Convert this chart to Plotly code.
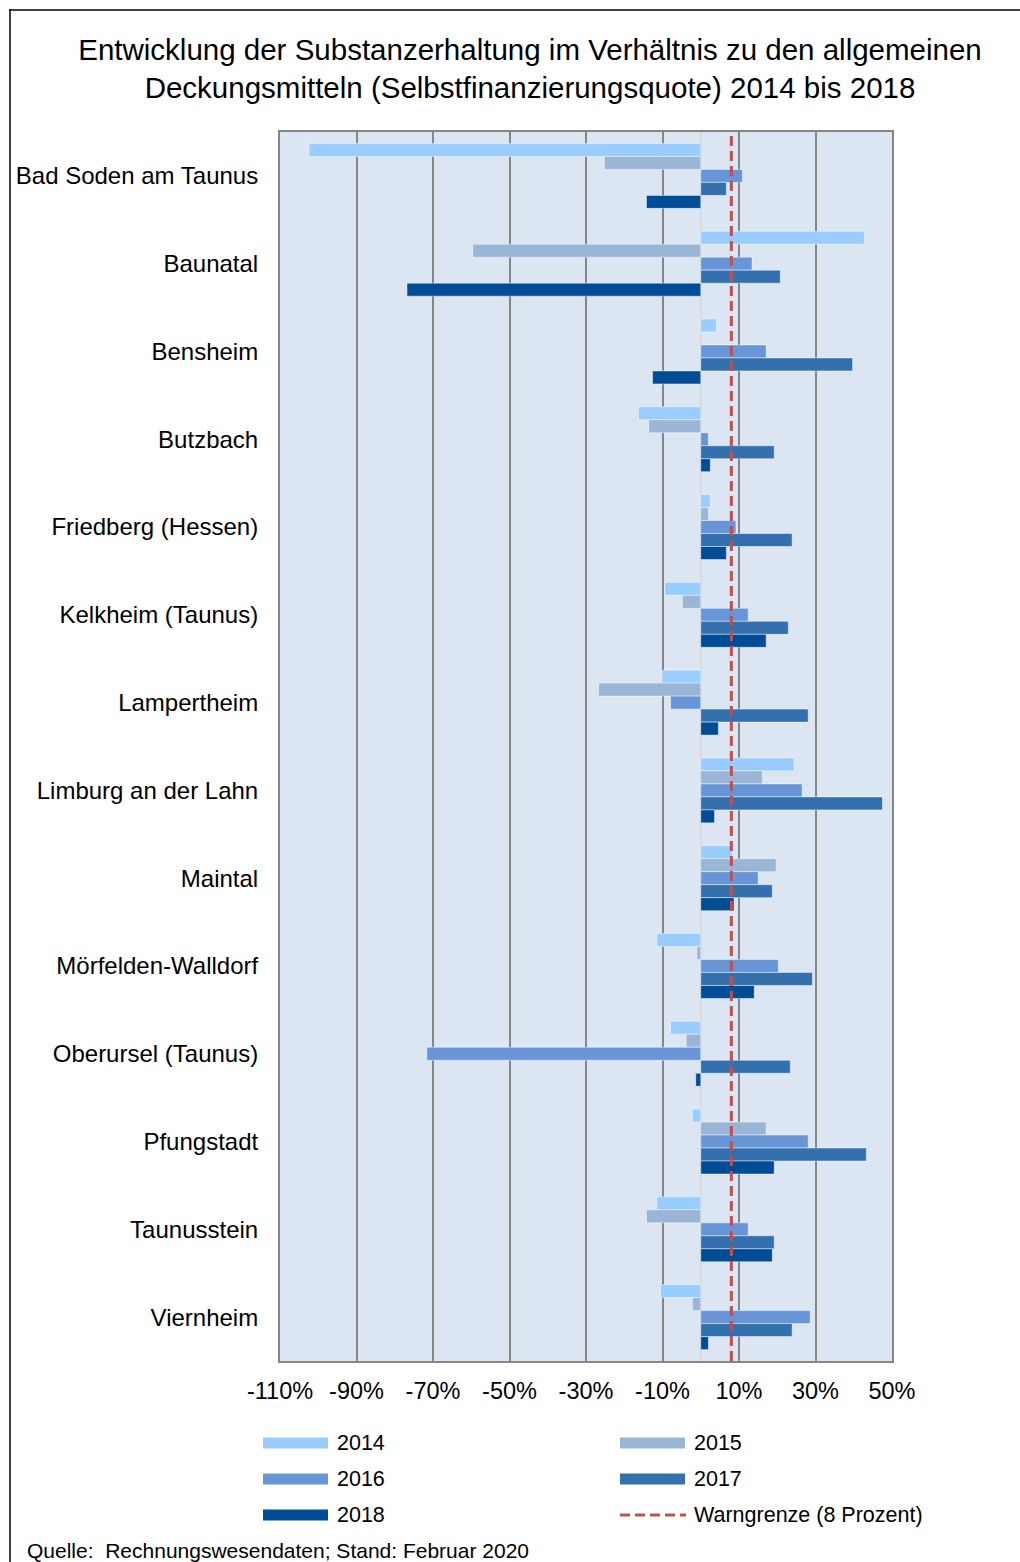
import plotly.graph_objects as go

# ---------------- data ----------------
cities = [
    "Bad Soden am Taunus", "Baunatal", "Bensheim", "Butzbach", "Friedberg (Hessen)",
    "Kelkheim (Taunus)", "Lampertheim", "Limburg an der Lahn", "Maintal",
    "Mörfelden-Walldorf", "Oberursel (Taunus)", "Pfungstadt", "Taunusstein", "Viernheim",
]
years = ["2014", "2015", "2016", "2017", "2018"]

v2014 = [-102.4, 42.8, 4.1, -16.3, 2.5, -9.4, -10.0, 24.4, 8.2, -11.5, -7.9, -2.2, -11.5, -10.5]
v2015 = [-25.2, -59.6, None, -13.6, 2.0, -4.8, -26.7, 16.1, 19.7, -1.0, -3.8, 17.1, -14.2, -2.2]
v2016 = [10.9, 13.4, 17.1, 2.0, 9.2, 12.4, -7.9, 26.5, 15.0, 20.3, -71.6, 28.1, 12.4, 28.6]
v2017 = [6.7, 20.8, 39.7, 19.2, 23.9, 22.9, 28.1, 47.5, 18.7, 29.2, 23.4, 43.3, 19.2, 23.9]
v2018 = [-14.2, -76.8, -12.6, 2.5, 6.7, 17.1, 4.6, 3.6, 8.7, 14.0, -1.3, 19.2, 18.7, 2.0]
series = [v2014, v2015, v2016, v2017, v2018]

warn_value = 8
warn_label = "Warngrenze (8 Prozent)"
tick_vals = [-110, -90, -70, -50, -30, -10, 10, 30, 50]

title_text = ("Entwicklung der Substanzerhaltung im Verhältnis zu den allgemeinen<br>"
              "Deckungsmitteln (Selbstfinanzierungsquote) 2014 bis 2018")
source_text = "Quelle:  Rechnungswesendaten; Stand: Februar 2020"

# ---------------- style ----------------
colors = ["#99CCFF", "#9AB5D5", "#6795D7", "#3370AD", "#004C97"]
warn_color = "#C0504D"
FONT = "Liberation Sans, Arial, sans-serif"

W, H = 1020, 1562
L, R, T, B = 280, 128, 132, 201
PW, PH = W - L - R, H - T - B


def pxx(x):
    return (x - L) / PW


def pxy(y):
    return (H - B - y) / PH


fig = go.Figure()
for name, vals, col in zip(years, series, colors):
    fig.add_trace(go.Bar(
        y=cities, x=vals, name=name, orientation="h",
        marker=dict(color=col, line=dict(color="rgba(255,255,255,0.45)", width=1)),
        showlegend=False,
    ))

# warning line
fig.add_shape(type="line", xref="x", yref="paper", x0=warn_value, x1=warn_value,
              y0=0, y1=1, line=dict(color=warn_color, width=3, dash="10px,5px"),
              layer="above")

# outer frame (left and top edges visible)
fig.add_shape(type="line", xref="paper", yref="paper", x0=pxx(10), x1=pxx(10),
              y0=pxy(9), y1=pxy(1600), line=dict(color="black", width=1.5))
fig.add_shape(type="line", xref="paper", yref="paper", x0=pxx(9), x1=pxx(1030),
              y0=pxy(10), y1=pxy(10), line=dict(color="black", width=1.5))

# custom legend
col_x = [263, 620]
row_y = [1443, 1479, 1515]
entries = [(y, c) for y, c in zip(years, colors)] + [(warn_label, None)]
for i, (lab, col) in enumerate(entries):
    cx = col_x[i % 2]
    ry = row_y[i // 2]
    if col is not None:
        fig.add_shape(type="rect", xref="paper", yref="paper",
                      x0=pxx(cx), x1=pxx(cx + 65), y0=pxy(ry - 5.5), y1=pxy(ry + 5.5),
                      fillcolor=col, line=dict(width=0))
    else:
        fig.add_shape(type="line", xref="paper", yref="paper",
                      x0=pxx(cx), x1=pxx(cx + 66), y0=pxy(ry), y1=pxy(ry),
                      line=dict(color=warn_color, width=3, dash="10px,5px"))
    fig.add_annotation(text=lab, xref="paper", yref="paper", x=pxx(cx + 72), y=pxy(ry),
                       xanchor="left", yanchor="middle", showarrow=False,
                       font=dict(family=FONT, size=21.5, color="black"))

fig.add_annotation(text=source_text, xref="paper", yref="paper", x=pxx(25), y=pxy(1550),
                   xanchor="left", yanchor="middle", showarrow=False,
                   font=dict(family=FONT, size=21, color="black"))

fig.update_layout(
    width=W, height=H,
    margin=dict(l=L, r=R, t=T, b=B),
    paper_bgcolor="white", plot_bgcolor="#DCE6F2",
    barmode="group", bargap=0.26, bargroupgap=0,
    font=dict(family=FONT, color="black"),
    title=dict(text=title_text, x=530 / W, xanchor="center", xref="container",
               y=1 - 60 / H, yanchor="middle",
               font=dict(family=FONT, size=29.5, color="black")),
    xaxis=dict(range=[-110, 50], tickmode="array", tickvals=tick_vals,
               ticktext=[f"{v}%" for v in tick_vals],
               showgrid=True, gridcolor="#868686", gridwidth=2,
               zeroline=True, zerolinecolor="#D9D9D9", zerolinewidth=2,
               showline=True, linecolor="#868686", linewidth=2, mirror=True,
               ticks="", ticklabelstandoff=8,
               tickfont=dict(family=FONT, size=23.5, color="black")),
    yaxis=dict(autorange="reversed", showgrid=False, zeroline=False,
               showline=True, linecolor="#868686", linewidth=2, mirror=True,
               ticks="", ticklabelstandoff=15,
               tickfont=dict(family=FONT, size=24, color="black")),
)

fig.write_html("out.html")
